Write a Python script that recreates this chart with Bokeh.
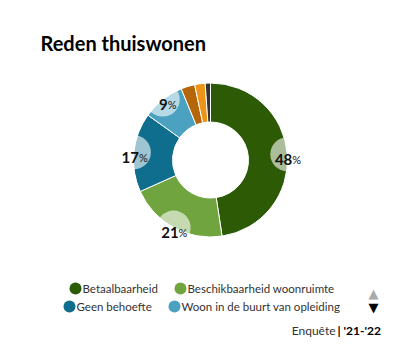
import numpy as np
from bokeh.plotting import figure
from bokeh.models import ColumnDataSource, Range1d, Label
from bokeh.core.properties import value
from bokeh.embed import file_html
from bokeh.resources import INLINE

# ---- data ----
categories = ["Betaalbaarheid", "Beschikbaarheid woonruimte", "Geen behoefte",
              "Woon in de buurt van opleiding", "Anders", "Weet niet", "Geen antwoord"]
shares = [47.6, 20.7, 16.6, 8.9, 2.9, 2.2, 1.1]
colors = ["#2d5a05", "#70a43f", "#0f6e8e", "#4aa1c0", "#b5660b", "#ec9418", "#333333"]
title_text = "Reden thuiswonen"
source_text = "Enquête"
period_text = "| '21-'22"
label_min = 5.0          # slices below this share get no label
legend_visible = 4       # legend page shows first 4 items

# ---- layout ----
W, H = 404, 342
FONT = "Lato"
cx, cy = 210, 182.5
R_OUT, R_IN, R_LAB = 77, 38, 17

p = figure(width=W, height=H, x_range=Range1d(0, W), y_range=Range1d(0, H),
           output_backend="svg", toolbar_location=None, min_border=0,
           x_axis_type=None, y_axis_type=None,
           background_fill_color="white", border_fill_color="white",
           outline_line_color=None)
p.grid.visible = False

vals = np.array(shares, dtype=float)
frac_end = np.cumsum(vals) / vals.sum()
frac_start = frac_end - vals / vals.sum()
start_ang = np.pi / 2 - frac_end * 2 * np.pi
end_ang = np.pi / 2 - frac_start * 2 * np.pi
mid_ang = (start_ang + end_ang) / 2

src = ColumnDataSource(dict(cat=categories, share=shares, color=colors,
                            start=start_ang, end=end_ang))
p.annular_wedge(x=cx, y=cy, inner_radius=R_IN, outer_radius=R_OUT,
                start_angle="start", end_angle="end", fill_color="color",
                line_color="white", line_width=1, source=src)

big = vals >= label_min
lab_src = ColumnDataSource(dict(
    x=cx + R_OUT * np.cos(mid_ang[big]),
    y=cy + R_OUT * np.sin(mid_ang[big]),
    num=[f"{v:.0f}" for v in vals[big]],
    pct=["%"] * int(big.sum())))
p.circle(x="x", y="y", radius=R_LAB, fill_color="white", fill_alpha=0.6,
         line_color=None, source=lab_src)
# clip label discs to the ring
p.annulus(x=cx, y=cy, inner_radius=R_OUT, outer_radius=R_OUT + 25,
          fill_color="white", line_color=None)
p.text(x="x", y="y", text="num", source=lab_src, x_offset=5, y_offset=5,
       text_align="right", text_baseline="alphabetic",
       text_font=value(FONT), text_font_style="bold", text_font_size="15px",
       text_color="#111111")
p.text(x="x", y="y", text="pct", source=lab_src, x_offset=5, y_offset=5,
       text_align="left", text_baseline="alphabetic",
       text_font=value(FONT), text_font_size="11px", text_color="#111111")

# ---- title ----
p.add_layout(Label(x=40, y=288, text=title_text, text_font=FONT,
                   text_font_style="bold", text_font_size="20px",
                   text_color="#000000"))

# ---- legend (first page) ----
leg_gx = [75, 180, 69, 174]
leg_gy = [54, 54, 36, 36]
leg_src = ColumnDataSource(dict(x=leg_gx, y=leg_gy,
                                tx=[g + 7 for g in leg_gx],
                                cat=categories[:legend_visible],
                                color=colors[:legend_visible]))
p.scatter(x="x", y="y", size=12, marker="circle", fill_color="color",
          line_color=None, source=leg_src)
p.text(x="tx", y="y", text="cat", source=leg_src, text_align="left",
       text_baseline="middle", text_font=value(FONT), text_font_size="11.5px",
       text_color="#333333")

# pagination arrows
p.add_layout(Label(x=373, y=49, text="▲", text_font="DejaVu Sans",
                   text_font_size="13px", text_color="#aaaaaa",
                   text_align="center", text_baseline="middle"))
p.add_layout(Label(x=373, y=35, text="▼", text_font="DejaVu Sans",
                   text_font_size="13px", text_color="#000000",
                   text_align="center", text_baseline="middle"))

# footer
p.add_layout(Label(x=335, y=12, text=source_text, text_font=FONT,
                   text_font_size="12px", text_color="#333333",
                   text_align="right", text_baseline="alphabetic"))
p.add_layout(Label(x=337, y=12, text=period_text, text_font=FONT,
                   text_font_style="bold", text_font_size="12px",
                   text_color="#000000", text_align="left",
                   text_baseline="alphabetic"))

open("out.html", "w").write(file_html(p, INLINE))
